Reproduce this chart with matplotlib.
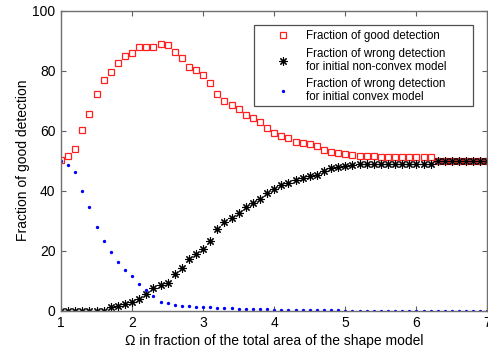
import matplotlib
matplotlib.use("Agg")
import matplotlib.pyplot as plt
from matplotlib.patches import Rectangle

plt.rcParams['font.family'] = ['Liberation Sans', 'DejaVu Sans']

omega = [1.0, 1.1, 1.2, 1.3, 1.4, 1.5, 1.6, 1.7, 1.8, 1.9,
         2.0, 2.1, 2.2, 2.3, 2.4, 2.5, 2.6, 2.7, 2.8, 2.9,
         3.0, 3.1, 3.2, 3.3, 3.4, 3.5, 3.6, 3.7, 3.8, 3.9,
         4.0, 4.1, 4.2, 4.3, 4.4, 4.5, 4.6, 4.7, 4.8, 4.9,
         5.0, 5.1, 5.2, 5.3, 5.4, 5.5, 5.6, 5.7, 5.8, 5.9,
         6.0, 6.1, 6.2, 6.3, 6.4, 6.5, 6.6, 6.7, 6.8, 6.9, 7.0]

good = [50.2, 51.5, 54.0, 60.3, 65.5, 72.3, 77.0, 79.5, 82.6, 84.9,
        85.8, 87.8, 87.8, 87.8, 88.8, 88.5, 86.3, 84.3, 81.3, 80.1,
        78.4, 75.8, 72.1, 70.0, 68.5, 67.2, 65.2, 64.1, 62.8, 61.0,
        59.3, 58.2, 57.5, 56.3, 55.8, 55.6, 54.9, 53.6, 53.0, 52.5,
        52.1, 51.9, 51.6, 51.5, 51.5, 51.4, 51.4, 51.4, 51.3, 51.3,
        51.3, 51.3, 51.3, 50.0, 50.0, 50.0, 50.0, 50.0, 50.0, 50.0, 50.0]

wrong_nonconvex = [0, 0, 0, 0, 0, 0, 0, 1.3, 1.7, 2.1,
                   2.8, 3.9, 5.6, 7.5, 8.6, 9.2, 12.1, 14.1, 17.2, 18.8,
                   20.5, 23.3, 27.2, 29.5, 31.0, 32.5, 34.5, 35.8, 37.1, 39.1,
                   40.6, 41.9, 42.7, 43.6, 44.1, 44.9, 45.2, 46.7, 47.5, 48.0,
                   48.2, 48.6, 48.8, 48.8, 48.9, 48.9, 48.9, 49.0, 49.0, 49.0,
                   49.0, 49.0, 49.0, 50.0, 50.0, 50.0, 50.0, 50.0, 50.0, 50.0, 50.0]

wrong_convex = [50.0, 48.7, 46.1, 39.8, 34.7, 27.9, 23.2, 19.7, 16.1, 13.6,
                11.7, 8.8, 6.9, 5.0, 2.9, 2.5, 1.9, 1.7, 1.5, 1.3,
                1.3, 1.2, 1.0, 0.9, 0.8, 0.7, 0.7, 0.5, 0.5, 0.5,
                0.4, 0.4, 0.3, 0.3, 0.2, 0.2, 0.2, 0.2, 0.2, 0.2,
                0, 0, 0, 0, 0, 0, 0, 0, 0, 0,
                0, 0, 0, 0, 0, 0, 0, 0, 0, 0, 0]

xticks = [1, 2, 3, 4, 5, 6, 7]
yticks = [0, 20, 40, 60, 80, 100]

labels = ['Fraction of good detection',
          'Fraction of wrong detection\nfor initial non-convex model',
          'Fraction of wrong detection\nfor initial convex model']

fig = plt.figure(figsize=(4.89, 3.49), dpi=100)
ax = fig.add_axes([61 / 489, 1 - 310.7 / 349, 426.5 / 489, 300 / 349])

ax.plot(omega, good, linestyle='none', marker='s', markersize=5,
        markerfacecolor='none', markeredgecolor='#ff2020', markeredgewidth=0.9,
        label=labels[0])
ax.plot(omega, wrong_nonconvex, linestyle='none', marker=(8, 2, 0), markersize=6,
        color='black', markeredgewidth=0.8, label=labels[1])
ax.plot(omega, wrong_convex, linestyle='none', marker='.', markersize=2.8,
        color='#0000ff', label=labels[2])

ax.set_xlim(1, 7)
ax.set_ylim(0, 100)
ax.set_xticks(xticks)
ax.set_yticks(yticks)
ax.tick_params(direction='in', length=3.5, width=0.8, top=True, right=True,
               labelsize=10, colors='#606060', labelcolor='black', pad=4)
for sp in ax.spines.values():
    sp.set_color('#707070')
    sp.set_linewidth(1.0)

ax.set_xlabel('\u03a9 in fraction of the total area of the shape model', fontsize=10, labelpad=3)
ax.set_ylabel('Fraction of good detection', fontsize=10, labelpad=2)

# legend frame drawn separately to match the reference padding
ax.add_patch(Rectangle((0.4525, 0.682), 0.5135, 0.270, transform=ax.transAxes,
                       facecolor='white', edgecolor='#505050', linewidth=0.9, zorder=4))
leg = ax.legend(loc='upper left', bbox_to_anchor=(0.4936, 0.934), fontsize=8.3,
                frameon=False, borderpad=0, labelspacing=0.45, handletextpad=1.0,
                handlelength=2.0, borderaxespad=0)
leg.set_zorder(5)
for t in leg.get_texts():
    t.set_linespacing(1.12)

fig.savefig('out.png', dpi=100)
